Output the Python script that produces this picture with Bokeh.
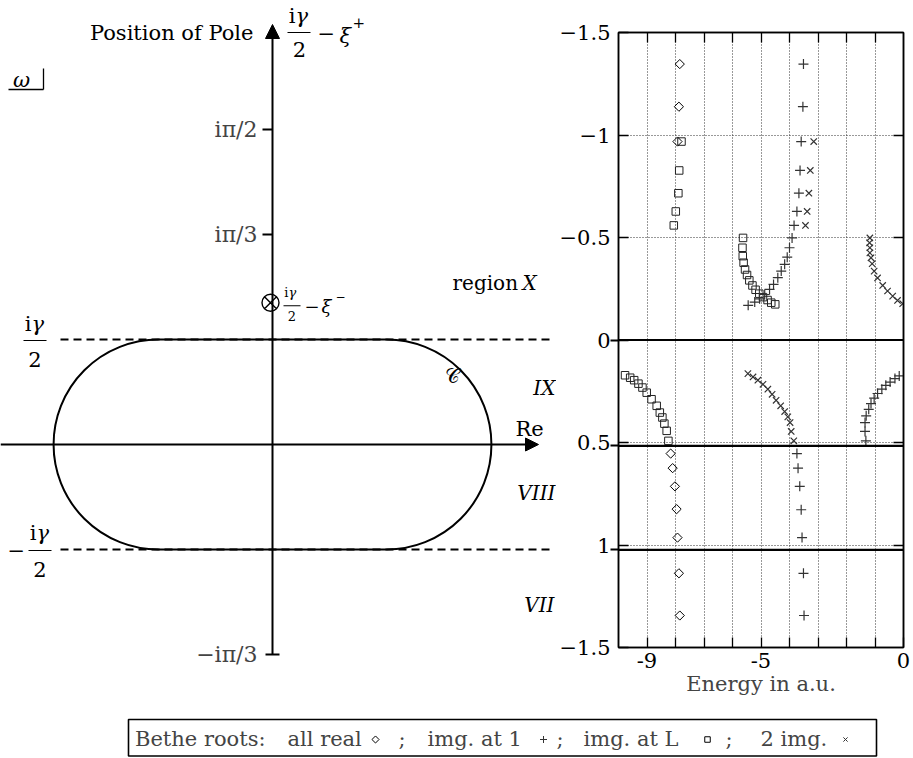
import math
from bokeh.plotting import figure
from bokeh.models import Range1d, Label, Arrow, NormalHead, Span, LinearAxis, FixedTicker
from bokeh.layouts import row, column
from bokeh.embed import file_html
from bokeh.resources import INLINE

FONT = "DejaVu Serif"
FS = "21px"

# ---------------- data: right panel (energy vs xi+/i) ----------------
all_real_x = [-7.85, -7.88, -7.93, -8.17, -8.10, -8.02, -7.96, -7.93, -7.88, -7.85]
all_real_y = [-1.346, -1.138, -0.968, 0.554, 0.625, 0.714, 0.825, 0.964, 1.138, 1.344]

img1_x = [-3.51, -3.53, -3.59, -3.63, -3.67, -3.74, -3.84,
          -3.91, -4.00, -4.08, -4.17, -4.29, -4.41, -4.56, -4.70, -4.87, -5.05, -5.22, -5.45,
          -3.74, -3.70, -3.64, -3.59, -3.56, -3.51, -3.49,
          -1.32, -1.35, -1.35, -1.31, -1.22, -1.14, -1.03, -0.91, -0.76, -0.62, -0.47, -0.30, -0.15]
img1_y = [-1.346, -1.138, -0.968, -0.827, -0.716, -0.627, -0.559,
          -0.498, -0.450, -0.404, -0.369, -0.336, -0.304, -0.271, -0.247, -0.222, -0.201, -0.185, -0.169,
          0.554, 0.625, 0.714, 0.828, 0.964, 1.138, 1.344,
          0.492, 0.446, 0.403, 0.370, 0.338, 0.310, 0.284, 0.261, 0.240, 0.221, 0.205, 0.188, 0.175]

imgL_x = [-7.79, -7.87, -7.90, -7.99, -8.06,
          -5.63, -5.65, -5.64, -5.61, -5.56, -5.49, -5.41, -5.30, -5.19, -5.06, -4.93, -4.77, -4.64, -4.50,
          -9.77, -9.59, -9.45, -9.30, -9.16, -9.01, -8.84, -8.66, -8.55, -8.46, -8.39, -8.31, -8.25]
imgL_y = [-0.968, -0.827, -0.716, -0.627, -0.559,
          -0.498, -0.450, -0.409, -0.377, -0.344, -0.317, -0.291, -0.266, -0.245, -0.226, -0.209, -0.195, -0.182, -0.174,
          0.172, 0.184, 0.196, 0.213, 0.232, 0.257, 0.289, 0.321, 0.354, 0.378, 0.408, 0.443, 0.492]

two_x = [-3.15, -3.27, -3.32, -3.38, -3.44,
         -1.18, -1.19, -1.18, -1.18, -1.14, -1.10, -1.03, -0.91, -0.73, -0.56, -0.38, -0.21, -0.03,
         -5.46, -5.28, -5.11, -4.93, -4.76, -4.61, -4.47, -4.31, -4.17, -4.06, -3.98, -3.94, -3.85]
two_y = [-0.968, -0.827, -0.716, -0.627, -0.559,
         -0.498, -0.474, -0.450, -0.425, -0.401, -0.372, -0.336, -0.303, -0.266, -0.239, -0.214, -0.193, -0.177,
         0.164, 0.180, 0.196, 0.216, 0.240, 0.265, 0.294, 0.321, 0.349, 0.375, 0.403, 0.446, 0.492]

region_lines = [0.0, 0.516, 1.024]
x_major = [-9.0, -5.0, 0.0]
x_minor = [-8.0, -7.0, -6.0, -4.0, -3.0, -2.0, -1.0]
x_grid = [-9.0, -8.0, -7.0, -6.0, -5.0, -4.0, -3.0, -2.0, -1.0]
x_tick_labels = {-9.0: "-9", -5.0: "-5", 0.0: "0"}
y_ticks = [-1.5, -1.0, -0.5, 0.0, 0.5, 1.0, 1.5]
y_tick_labels = ["\u22121.5", "\u22121", "\u22120.5", "0", "0.5", "1", "\u22121.5"]
y_grid = [-1.0, -0.5, 0.5, 1.0]
region_names = ["X", "IX", "VIII", "VII"]
legend_names = ["all real", "img. at 1", "img. at L", "2 img."]

# ---------------- diagram constants (left panel) ----------------
gamma_half = 1.0          # i*gamma/2 level (units of pi/6)
flat_half = 1.085         # half length of straight parts of contour C
pole_im = 1.35
im_ticks = [3.0, 2.0, -2.0]
im_tick_labels = ["i\u03c0/2", "i\u03c0/3", "\u2212i\u03c0/3"]

# page-pixel helpers for the schematic
AX0, AY0, UNIT = 272.0, 444.0, 105.0
def X(px):
    return (px - AX0) / UNIT
def Y(py):
    return (AY0 - py) / UNIT

def lab(fig, px, py, text, size=21, align="left", style="normal"):
    fig.add_layout(Label(x=X(px), y=Y(py), text=text, text_font=FONT,
                         text_font_size=f"{size}px", text_align=align,
                         text_baseline="middle", text_font_style=style,
                         text_color="black"))

def seg(fig, p0, p1, w=1.3):
    fig.segment(x0=[X(p0[0])], y0=[Y(p0[1])], x1=[X(p1[0])], y1=[Y(p1[1])],
                line_color="black", line_width=w)

TOP_H = 706
LW = 556
p1 = figure(width=LW, height=TOP_H, x_range=Range1d(X(0), X(LW)),
            y_range=Range1d(Y(TOP_H), Y(0)), x_axis_type=None, y_axis_type=None,
            min_border=0, min_border_left=0, min_border_right=0, min_border_top=0,
            min_border_bottom=0, outline_line_color=None,
            output_backend="svg", toolbar_location=None)

# dashed i*gamma/2 lines
for s in (1, -1):
    p1.line([X(60), X(553)], [s * gamma_half, s * gamma_half], line_color="black",
            line_width=1.8, line_dash="8 5")
# contour C
p1.segment(x0=[-flat_half, -flat_half], y0=[gamma_half, -gamma_half],
           x1=[flat_half, flat_half], y1=[gamma_half, -gamma_half],
           line_color="black", line_width=2)
p1.arc(x=[flat_half], y=[0], radius=gamma_half, start_angle=-math.pi / 2,
       end_angle=math.pi / 2, line_color="black", line_width=2)
p1.arc(x=[-flat_half], y=[0], radius=gamma_half, start_angle=math.pi / 2,
       end_angle=3 * math.pi / 2, line_color="black", line_width=2)

# axes with arrows
p1.add_layout(Arrow(end=NormalHead(size=13, fill_color="black", line_color="black"),
                    x_start=X(0), y_start=0, x_end=X(538), y_end=0,
                    line_color="black", line_width=2))
p1.add_layout(Arrow(end=NormalHead(size=14, fill_color="black", line_color="black"),
                    x_start=0, y_start=im_ticks[2], x_end=0, y_end=Y(24),
                    line_color="black", line_width=2))
# im ticks
for v, t in zip(im_ticks, im_tick_labels):
    if v > 0:
        p1.segment(x0=[X(262)], y0=[v], x1=[0], y1=[v], line_color="black", line_width=2)
    else:
        p1.segment(x0=[X(265)], y0=[v], x1=[X(279)], y1=[v], line_color="black", line_width=2)
    p1.add_layout(Label(x=X(257), y=v, text=t, text_font=FONT, text_font_size="22px",
                        text_align="right", text_baseline="middle"))

# pole
p1.scatter([X(270)], [pole_im], marker="circle_x", size=17, fill_color="white",
           line_color="black", line_width=1.4)
pole_py = AY0 - pole_im * UNIT
lab(p1, 288, pole_py - 10, "i", size=13, align="right")
lab(p1, 288, pole_py - 10, "\u03b3", size=13, style="italic")
seg(p1, (283, pole_py + 3), (300, pole_py + 3), w=1)
lab(p1, 291.5, pole_py + 13, "2", size=13, align="center")
lab(p1, 304, pole_py + 3, "\u2212", size=18)
lab(p1, 321, pole_py + 4, "\u03be", size=18, style="italic")
lab(p1, 335, pole_py - 7, "\u2212", size=12)

# top label
lab(p1, 253, 32, "Position of Pole", align="right")
lab(p1, 295, 15, "i", align="right")
lab(p1, 295, 15, "\u03b3", style="italic")
seg(p1, (287, 32), (310, 32), w=1.2)
lab(p1, 299, 49, "2", align="center")
lab(p1, 317, 33, "\u2212")
lab(p1, 339, 35, "\u03be", style="italic")
lab(p1, 352, 22, "+", size=15)

# omega box
lab(p1, 21, 79, "\u03c9", size=21, align="center", style="italic")
seg(p1, (8, 89), (43, 89))
seg(p1, (43, 68), (43, 89))

# +/- i gamma / 2
lab(p1, 31, 323, "i", align="right")
lab(p1, 31, 323, "\u03b3", style="italic")
seg(p1, (23, 340), (46, 340), w=1.2)
lab(p1, 34.5, 359, "2", align="center")
lab(p1, 7, 550, "\u2212")
lab(p1, 36, 532, "i", align="right")
lab(p1, 36, 532, "\u03b3", style="italic")
seg(p1, (28, 550), (51, 550), w=1.2)
lab(p1, 39.5, 569, "2", align="center")

lab(p1, 515, 428, "Re")
lab(p1, 452, 375, "\U0001D49E", size=20, align="center")

# region labels
lab(p1, 452, 282, "region", size=20)
lab(p1, 522, 282, region_names[0], size=20, style="italic")
lab(p1, 555, 387, region_names[1], size=20, align="right", style="italic")
lab(p1, 555, 492, region_names[2], size=20, align="right", style="italic")
lab(p1, 554, 604, region_names[3], size=20, align="right", style="italic")

# ---------------- right panel ----------------
p2 = figure(width=912 - LW, height=TOP_H, x_range=Range1d(-10, 0), y_range=Range1d(1.5, -1.5),
            min_border_left=617 - LW, min_border_right=9, min_border_top=32,
            min_border_bottom=TOP_H - 647,
            output_backend="svg", toolbar_location=None)
p2.outline_line_color = "black"
p2.outline_line_width = 1.5

for f in (p1, p2):
    if "frame_align" in f.properties():
        f.frame_align = False

xa = p2.xaxis[0]
xa.ticker = FixedTicker(ticks=x_major, minor_ticks=x_minor)
xa.major_label_overrides = {t: x_tick_labels[t] for t in x_major}
ya = p2.yaxis[0]
ya.ticker = FixedTicker(ticks=y_ticks, minor_ticks=region_lines)
ya.major_label_overrides = {t: l for t, l in zip(y_ticks, y_tick_labels)}
for ax in (xa, ya):
    ax.major_tick_in = 10
    ax.major_tick_out = 0
    ax.axis_line_width = 1.5
    ax.major_tick_line_width = 1.3
    ax.major_label_text_font = FONT
    ax.major_label_text_font_size = FS
    ax.major_label_text_color = "black"
xa.minor_tick_in = 10
xa.minor_tick_out = 0
xa.minor_tick_line_width = 1.3
# short outward stubs of the region boundary lines
ya.minor_tick_in = 0
ya.minor_tick_out = 8
ya.minor_tick_line_width = 2.2
ya.major_label_standoff = 0
xa.major_label_standoff = 5
xa.axis_label = "Energy in a.u."
xa.axis_label_text_font = FONT
xa.axis_label_text_font_size = FS
xa.axis_label_text_font_style = "normal"
xa.axis_label_standoff = 1

top_ax = LinearAxis(ticker=FixedTicker(ticks=[], minor_ticks=x_grid),
                    major_tick_in=10, major_tick_out=0, minor_tick_in=10, minor_tick_out=0,
                    axis_line_width=1.5, minor_tick_line_width=1.3)
p2.add_layout(top_ax, "above")
right_ax = LinearAxis(ticker=FixedTicker(ticks=[], minor_ticks=y_grid),
                      major_tick_in=10, major_tick_out=0, minor_tick_in=10, minor_tick_out=0,
                      axis_line_width=1.5, minor_tick_line_width=1.3)
p2.add_layout(right_ax, "right")

p2.xgrid[0].ticker = FixedTicker(ticks=x_grid)
p2.ygrid[0].ticker = FixedTicker(ticks=y_grid)
for g in (p2.xgrid[0], p2.ygrid[0]):
    g.grid_line_color = "#333333"
    g.grid_line_dash = "1 2"
    g.grid_line_width = 1

for loc in region_lines:
    p2.add_layout(Span(location=loc, dimension="width", line_color="black", line_width=2.2))

p2.scatter(imgL_x, imgL_y, marker="square", size=7.5, fill_color=None, line_color="#222222", line_width=1)
p2.scatter(all_real_x, all_real_y, marker="square", angle=math.pi / 4, size=6.5,
           fill_color=None, line_color="black", line_width=1)
p2.scatter(img1_x, img1_y, marker="cross", size=10, line_color="#333333", line_width=1.2)
p2.scatter(two_x, two_y, marker="x", size=9, line_color="#333333", line_width=1.2)

p2.add_layout(Label(x=-10, y=-1.5, x_offset=-37, y_offset=-26, text="\u03be\u207a/i",
                    text_font=FONT, text_font_size=FS, text_baseline="middle",
                    text_align="left"))

# ---------------- legend strip (page coordinates, y negated) ----------------
LGW, LGH = 912, 51
p3 = figure(width=LGW, height=LGH, x_range=Range1d(0, LGW), y_range=Range1d(-(TOP_H + LGH), -TOP_H),
            x_axis_type=None, y_axis_type=None, min_border=0, min_border_left=0,
            min_border_right=0, min_border_top=0, min_border_bottom=0,
            outline_line_color=None, output_backend="svg", toolbar_location=None)
if "frame_align" in p3.properties():
    p3.frame_align = False
p3.quad(left=[128], right=[876], bottom=[-755.5], top=[-719], fill_color=None,
        line_color="black", line_width=1.6)
LY = -738
p3.add_layout(Label(x=265, y=LY, text="Bethe roots:", text_font=FONT, text_font_size=FS,
                    text_baseline="middle", text_align="right"))
for t, px in [(legend_names[0], 287), (";", 398), (legend_names[1], 427), (";", 556),
              (legend_names[2], 583), (";", 725), (legend_names[3], 760)]:
    p3.add_layout(Label(x=px, y=LY, text=t, text_font=FONT, text_font_size=FS,
                        text_baseline="middle", text_align="left"))
p3.scatter([375], [-739], marker="square", angle=math.pi / 4, size=5, fill_color=None,
           line_color="black", line_width=1)
p3.scatter([543], [-739], marker="cross", size=7, line_color="#333333", line_width=1)
p3.scatter([707], [-739], marker="square", size=5.5, fill_color=None, line_color="black", line_width=1)
p3.scatter([845], [-739], marker="x", size=6, line_color="#333333", line_width=1)

layout = column(row(p1, p2), p3)
open("out.html", "w").write(file_html(layout, INLINE))
